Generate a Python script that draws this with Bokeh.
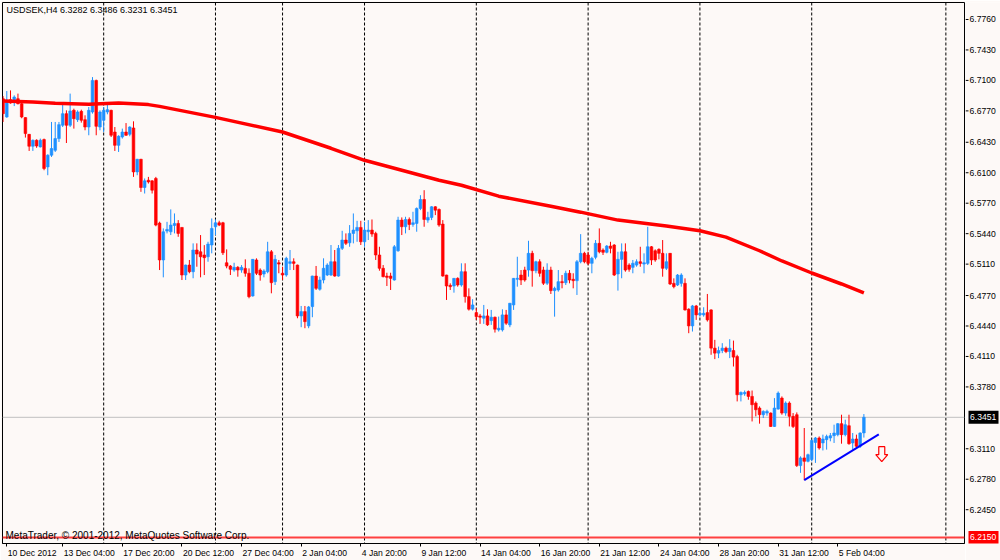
from bokeh.plotting import figure
from bokeh.layouts import row
from bokeh.models import (Range1d, LinearAxis, FixedTicker, Span, Label, ColumnDataSource)
from bokeh.core.properties import value
from bokeh.embed import file_html
from bokeh.resources import INLINE

# ---------------- data ----------------
symbol_title = "USDSEK,H4  6.3282 6.3486 6.3231 6.3451"
copyright_text = "MetaTrader, \u00a9 2001-2012, MetaQuotes Software Corp."

bars = list(range(-1, 231))
opens = [6.6902, 6.6704, 6.6891, 6.6866, 6.6902, 6.6848, 6.6697, 6.6516, 6.6387, 6.6452,
         6.6380, 6.6459, 6.6163, 6.6290, 6.6343, 6.6470, 6.6614, 6.6740, 6.6614, 6.6776,
         6.6675, 6.6765, 6.6675, 6.6595, 6.6758, 6.7100, 6.6595, 6.6668, 6.6758, 6.6776,
         6.6541, 6.6397, 6.6487, 6.6541, 6.6516, 6.6585, 6.6109, 6.6246, 6.5940, 6.6019,
         6.6012, 6.6038, 6.5555, 6.5155, 6.5468, 6.5460, 6.5529, 6.5551, 6.5508, 6.4992,
         6.5100, 6.5028, 6.5263, 6.5244, 6.5209, 6.5190, 6.5317, 6.5514, 6.5558, 6.5558,
         6.5125, 6.5089, 6.5046, 6.5075, 6.5046, 6.5064, 6.5011, 6.4765, 6.5155, 6.5046,
         6.5003, 6.5028, 6.5244, 6.4920, 6.5125, 6.5011, 6.4992, 6.5118, 6.5136, 6.5100,
         6.4549, 6.4596, 6.4441, 6.4650, 6.4981, 6.4838, 6.4938, 6.4992, 6.4992, 6.5136,
         6.4981, 6.5281, 6.5371, 6.5341, 6.5443, 6.5471, 6.5508, 6.5352, 6.5461, 6.5479,
         6.5443, 6.5209, 6.5065, 6.4981, 6.4981, 6.4938, 6.5255, 6.5587, 6.5515, 6.5594,
         6.5540, 6.5551, 6.5713, 6.5810, 6.5587, 6.5616, 6.5731, 6.5702, 6.5544, 6.4992,
         6.4880, 6.4873, 6.4956, 6.4884, 6.5028, 6.4758, 6.4622, 6.4585, 6.4549, 6.4524,
         6.4549, 6.4498, 6.4535, 6.4398, 6.4398, 6.4560, 6.4452, 6.4668, 6.4946, 6.4992,
         6.5046, 6.5046, 6.5227, 6.5039, 6.5136, 6.5046, 6.4903, 6.5046, 6.4823, 6.4830,
         6.4920, 6.4909, 6.5011, 6.4946, 6.4931, 6.5136, 6.5227, 6.5209, 6.5119, 6.5184,
         6.5335, 6.5263, 6.5238, 6.5306, 6.5317, 6.5003, 6.5162, 6.5244, 6.5100, 6.5075,
         6.5100, 6.5136, 6.5111, 6.5118, 6.5298, 6.5255, 6.5270, 6.5227, 6.5065, 6.5227,
         6.4902, 6.4884, 6.4902, 6.4902, 6.4622, 6.4441, 6.4657, 6.4560, 6.4560, 6.4585,
         6.4614, 6.4200, 6.4146, 6.4174, 6.4200, 6.4163, 6.4174, 6.4109, 6.3695, 6.3706,
         6.3731, 6.3677, 6.3605, 6.3551, 6.3479, 6.3497, 6.3497, 6.3352, 6.3540, 6.3659,
         6.3497, 6.3605, 6.3461, 6.3479, 6.2928, 6.3011, 6.2974, 6.2993, 6.3179, 6.3227,
         6.3173, 6.3209, 6.3227, 6.3252, 6.3263, 6.3382, 6.3263, 6.3360, 6.3173, 6.3216,
         6.3137, 6.3282]
highs = [6.6930, 6.6985, 6.6992, 6.6938, 6.6957, 6.6860, 6.6700, 6.6520, 6.6460, 6.6462,
         6.6470, 6.6470, 6.6300, 6.6650, 6.6650, 6.6650, 6.6848, 6.6776, 6.6957, 6.6794,
         6.6776, 6.6783, 6.6722, 6.6812, 6.7136, 6.7108, 6.6776, 6.6812, 6.6838, 6.6783,
         6.6595, 6.6506, 6.6578, 6.6638, 6.6603, 6.6657, 6.6250, 6.6250, 6.6038, 6.6055,
         6.6019, 6.6055, 6.5570, 6.5497, 6.5568, 6.5703, 6.5659, 6.5587, 6.5510, 6.5105,
         6.5155, 6.5335, 6.5335, 6.5425, 6.5316, 6.5352, 6.5605, 6.5594, 6.5580, 6.5568,
         6.5270, 6.5100, 6.5125, 6.5089, 6.5100, 6.5162, 6.5064, 6.5165, 6.5173, 6.5064,
         6.5054, 6.5352, 6.5263, 6.5209, 6.5155, 6.5082, 6.5190, 6.5263, 6.5173, 6.5105,
         6.4657, 6.4657, 6.4657, 6.4985, 6.5090, 6.4974, 6.5173, 6.5119, 6.5317, 6.5263,
         6.5317, 6.5471, 6.5443, 6.5533, 6.5659, 6.5579, 6.5579, 6.5568, 6.5587, 6.5594,
         6.5461, 6.5298, 6.5100, 6.5017, 6.5017, 6.5317, 6.5623, 6.5616, 6.5623, 6.5616,
         6.5677, 6.5724, 6.5857, 6.5911, 6.5677, 6.5738, 6.5738, 6.5713, 6.5587, 6.4995,
         6.4902, 6.4960, 6.4967, 6.5119, 6.5119, 6.4848, 6.4730, 6.4632, 6.4571, 6.4668,
         6.4621, 6.4614, 6.4542, 6.4542, 6.4621, 6.4614, 6.4690, 6.4960, 6.5190, 6.5046,
         6.5082, 6.5363, 6.5255, 6.5147, 6.5162, 6.5082, 6.5119, 6.5082, 6.4866, 6.5046,
         6.4992, 6.5039, 6.5046, 6.5011, 6.5155, 6.5435, 6.5244, 6.5244, 6.5190, 6.5371,
         6.5497, 6.5281, 6.5317, 6.5352, 6.5327, 6.5244, 6.5335, 6.5335, 6.5119, 6.5155,
         6.5162, 6.5298, 6.5227, 6.5514, 6.5306, 6.5270, 6.5281, 6.5371, 6.5227, 6.5230,
         6.4956, 6.5003, 6.5011, 6.4956, 6.4632, 6.4668, 6.4668, 6.4614, 6.4643, 6.4787,
         6.4621, 6.4290, 6.4217, 6.4254, 6.4217, 6.4297, 6.4282, 6.4128, 6.3731, 6.3741,
         6.3741, 6.3741, 6.3623, 6.3569, 6.3526, 6.3533, 6.3504, 6.3659, 6.3731, 6.3677,
         6.3623, 6.3623, 6.3497, 6.3504, 6.3028, 6.3335, 6.3057, 6.3209, 6.3238, 6.3244,
         6.3263, 6.3263, 6.3281, 6.3371, 6.3389, 6.3479, 6.3425, 6.3479, 6.3281, 6.3263,
         6.3288, 6.3486]
lows = [6.6650, 6.6695, 6.6848, 6.6822, 6.6840, 6.6690, 6.6481, 6.6336, 6.6336, 6.6370,
        6.6373, 6.6127, 6.6073, 6.6271, 6.6325, 6.6433, 6.6595, 6.6422, 6.6595, 6.6578,
        6.6650, 6.6643, 6.6560, 6.6506, 6.6740, 6.6506, 6.6560, 6.6541, 6.6733, 6.6487,
        6.6336, 6.6325, 6.6470, 6.6500, 6.6495, 6.6055, 6.6073, 6.5893, 6.5875, 6.5983,
        6.5875, 6.5520, 6.5046, 6.4967, 6.5443, 6.5425, 6.5443, 6.5406, 6.4938, 6.4938,
        6.5011, 6.4957, 6.5082, 6.4967, 6.4992, 6.5136, 6.5227, 6.5425, 6.5522, 6.5209,
        6.5065, 6.4992, 6.5028, 6.4974, 6.5017, 6.4974, 6.4740, 6.4758, 6.4992, 6.4931,
        6.4967, 6.5011, 6.4794, 6.4884, 6.5011, 6.4938, 6.4974, 6.5046, 6.5046, 6.4524,
        6.4427, 6.4416, 6.4416, 6.4535, 6.4830, 6.4823, 6.4902, 6.4981, 6.4981, 6.4974,
        6.4974, 6.5263, 6.5317, 6.5298, 6.5335, 6.5352, 6.5317, 6.5298, 6.5371, 6.5406,
        6.5155, 6.5039, 6.4967, 6.4873, 6.4830, 6.4931, 6.5244, 6.5425, 6.5443, 6.5479,
        6.5515, 6.5461, 6.5695, 6.5515, 6.5558, 6.5587, 6.5641, 6.5515, 6.4974, 6.4722,
        6.4830, 6.4801, 6.4866, 6.4866, 6.4693, 6.4607, 6.4607, 6.4506, 6.4463, 6.4463,
        6.4441, 6.4452, 6.4369, 6.4380, 6.4380, 6.4452, 6.4427, 6.4614, 6.4866, 6.4884,
        6.4920, 6.4974, 6.4866, 6.5011, 6.4974, 6.4884, 6.4884, 6.4787, 6.4541, 6.4812,
        6.4848, 6.4884, 6.4902, 6.4848, 6.4776, 6.5119, 6.5119, 6.5100, 6.5011, 6.5162,
        6.5227, 6.5209, 6.5227, 6.5227, 6.4981, 6.4823, 6.4957, 6.5028, 6.5028, 6.5011,
        6.5082, 6.5082, 6.5011, 6.5100, 6.5100, 6.5136, 6.5162, 6.4974, 6.5046, 6.4884,
        6.4848, 6.4873, 6.4866, 6.4607, 6.4362, 6.4380, 6.4506, 6.4541, 6.4541, 6.4488,
        6.4128, 6.4081, 6.4092, 6.4146, 6.4146, 6.4092, 6.4001, 6.3623, 6.3623, 6.3684,
        6.3641, 6.3406, 6.3461, 6.3382, 6.3443, 6.3468, 6.3346, 6.3346, 6.3533, 6.3479,
        6.3468, 6.3352, 6.3335, 6.2913, 6.2849, 6.2770, 6.2963, 6.2974, 6.2957, 6.3101,
        6.3092, 6.3101, 6.3191, 6.3173, 6.3245, 6.3165, 6.3245, 6.3154, 6.3101, 6.3119,
        6.3119, 6.3231]
closes = [6.6740, 6.6884, 6.6855, 6.6920, 6.6848, 6.6704, 6.6524, 6.6387, 6.6452, 6.6390,
          6.6452, 6.6146, 6.6290, 6.6362, 6.6470, 6.6621, 6.6740, 6.6614, 6.6769, 6.6686,
          6.6758, 6.6668, 6.6595, 6.6776, 6.7100, 6.6603, 6.6758, 6.6776, 6.6783, 6.6506,
          6.6397, 6.6495, 6.6541, 6.6506, 6.6595, 6.6109, 6.6246, 6.5940, 6.6012, 6.6001,
          6.5911, 6.5533, 6.5155, 6.5460, 6.5486, 6.5533, 6.5551, 6.5443, 6.4992, 6.5100,
          6.5028, 6.5263, 6.5219, 6.5190, 6.5180, 6.5327, 6.5497, 6.5558, 6.5533, 6.5233,
          6.5089, 6.5054, 6.5075, 6.5046, 6.5075, 6.5011, 6.4758, 6.5162, 6.5011, 6.4992,
          6.5036, 6.5244, 6.4909, 6.5162, 6.5111, 6.4992, 6.5173, 6.5136, 6.5118, 6.4549,
          6.4596, 6.4487, 6.4646, 6.4981, 6.4848, 6.4938, 6.5065, 6.5100, 6.5136, 6.4981,
          6.5281, 6.5371, 6.5335, 6.5443, 6.5479, 6.5508, 6.5352, 6.5479, 6.5479, 6.5436,
          6.5209, 6.5065, 6.4974, 6.4967, 6.4956, 6.5298, 6.5587, 6.5515, 6.5594, 6.5540,
          6.5558, 6.5713, 6.5810, 6.5594, 6.5616, 6.5731, 6.5695, 6.5533, 6.4981, 6.4873,
          6.4866, 6.4956, 6.4884, 6.5028, 6.4758, 6.4622, 6.4668, 6.4541, 6.4535, 6.4549,
          6.4452, 6.4535, 6.4405, 6.4416, 6.4560, 6.4470, 6.4686, 6.4956, 6.4956, 6.4938,
          6.4938, 6.5227, 6.5039, 6.5136, 6.5011, 6.4903, 6.5046, 6.4823, 6.4848, 6.4920,
          6.4909, 6.5011, 6.4938, 6.4931, 6.5136, 6.5227, 6.5136, 6.5119, 6.5173, 6.5335,
          6.5244, 6.5238, 6.5306, 6.5281, 6.4992, 6.5162, 6.5244, 6.5046, 6.5054, 6.5119,
          6.5136, 6.5118, 6.5125, 6.5298, 6.5155, 6.5155, 6.5227, 6.5065, 6.5136, 6.4895,
          6.4866, 6.4992, 6.4992, 6.4614, 6.4441, 6.4657, 6.4560, 6.4578, 6.4578, 6.4506,
          6.4200, 6.4146, 6.4174, 6.4200, 6.4163, 6.4200, 6.4103, 6.3695, 6.3720, 6.3720,
          6.3677, 6.3587, 6.3533, 6.3479, 6.3515, 6.3515, 6.3352, 6.3551, 6.3713, 6.3497,
          6.3605, 6.3461, 6.3352, 6.2928, 6.3011, 6.2974, 6.3046, 6.3201, 6.3227, 6.3119,
          6.3216, 6.3244, 6.3252, 6.3281, 6.3382, 6.3263, 6.3371, 6.3165, 6.3216, 6.3137,
          6.3281, 6.3451]

ma_bar = [-1, 7, 13, 22, 30, 38, 41, 56, 74, 87, 96, 106, 116, 122, 132, 146, 154,
          164, 177, 186, 193, 202, 208, 216, 224, 230]
ma_price = [6.6876, 6.6866, 6.6852, 6.6841, 6.6855, 6.6838, 6.6819, 6.6700, 6.6541,
            6.6365, 6.6235, 6.6127, 6.6019, 6.5965, 6.5846, 6.5738, 6.5673, 6.5587,
            6.5522, 6.5471, 6.5403, 6.5255, 6.5144, 6.5014, 6.4895, 6.4798]

trend_bar = [214, 234]
trend_price = [6.2770, 6.3265]

separator_bars = [26, 56, 74, 96, 126, 156, 186, 216, 252]
xtick_bars = [0, 15, 31, 47, 63, 79, 95, 111, 127, 143, 159, 175, 191, 207, 223]
xtick_labels = ["10 Dec 2012", "13 Dec 04:00", "17 Dec 20:00", "20 Dec 12:00",
                "27 Dec 04:00", "2 Jan 04:00", "4 Jan 20:00", "9 Jan 12:00",
                "14 Jan 04:00", "16 Jan 20:00", "21 Jan 12:00", "24 Jan 04:00",
                "28 Jan 20:00", "31 Jan 12:00", "5 Feb 04:00"]
ytick_prices = [6.7760, 6.7430, 6.7100, 6.6770, 6.6430, 6.6100, 6.5770, 6.5440,
                6.5110, 6.4770, 6.4440, 6.4110, 6.3780, 6.3110, 6.2780, 6.2450]
bid_price = 6.3451
hline_price = 6.2150
arrow_bar = 234.8
arrow_price = 6.3133

# ---------------- styling / layout ----------------
BG = "#FDF9F7"
BULL = "#1E90FF"
BEAR = "#FF0000"
FONT = "Liberation Sans"
FS_AX = 8.6        # px, tick labels
W1, W2, H = 965, 35, 560
BL, BT, BR, BB = 2, 2, 1, 16
FW, FH = W1 - BL - BR, H - BT - BB
X0, X1 = -1.15, 257.0
Y0, Y1 = 6.2084, 6.7944
PX_X = (X1 - X0) / FW     # data units per pixel (x)
PX_Y = (Y1 - Y0) / FH     # data units per pixel (y)

# Arial/Liberation Sans advance widths (em) for label centring
CW = {" ": 0.278, ":": 0.278, "D": 0.722, "J": 0.5, "F": 0.611, "c": 0.5}


def text_width(s, size):
    return sum(CW.get(ch, 0.556) for ch in s) * size


colors = [BULL if c >= o else BEAR for o, c in zip(opens, closes)]
tops = [max(o, c) for o, c in zip(opens, closes)]
bottoms = [min(o, c) for o, c in zip(opens, closes)]
tops = [t if t - b >= PX_Y else b + PX_Y for t, b in zip(tops, bottoms)]

src = ColumnDataSource(dict(bar=bars, high=highs, low=lows, top=tops,
                            bottom=bottoms, color=colors))

yr = Range1d(Y0, Y1)
p = figure(width=W1, height=H, x_range=Range1d(X0, X1), y_range=yr,
           output_backend="svg", toolbar_location=None,
           x_axis_location=None, y_axis_location=None,
           min_border_left=BL, min_border_top=BT, min_border_right=BR, min_border_bottom=BB)
p.background_fill_color = BG
p.border_fill_color = BG
p.outline_line_color = "black"
p.outline_line_width = 1
p.grid.visible = False

# time scale: tick marks at the bars, labels starting right of each tick
tick_axis = LinearAxis(ticker=FixedTicker(ticks=xtick_bars), major_tick_out=3, major_tick_in=0,
                       minor_tick_out=0, minor_tick_in=0, major_label_standoff=0,
                       major_label_text_font_size="0px", major_label_text_color=None,
                       axis_line_color="black", major_tick_line_color="black")
p.add_layout(tick_axis, "below")
label_pos = [b + (text_width(t, FS_AX) / 2 + 1) * PX_X for b, t in zip(xtick_bars, xtick_labels)]
label_axis = LinearAxis(ticker=FixedTicker(ticks=label_pos),
                        major_label_overrides={x: t for x, t in zip(label_pos, xtick_labels)},
                        major_tick_out=0, major_tick_in=0, minor_tick_out=0, minor_tick_in=0,
                        major_label_standoff=1, major_label_text_font=FONT,
                        major_label_text_font_size="%.1fpx" % FS_AX,
                        major_label_text_color="black",
                        axis_line_color=None, major_tick_line_color=None)
p.add_layout(label_axis, "below")

for b in separator_bars:
    p.add_layout(Span(location=b, dimension="height", line_color="black",
                      line_dash="3 2", line_width=1, level="underlay"))
p.add_layout(Span(location=bid_price, dimension="width", line_color="#C0C0C0",
                  line_width=1, level="underlay"))
p.add_layout(Span(location=hline_price, dimension="width", line_color="#FF4040",
                  line_width=2))

p.segment(x0="bar", y0="high", x1="bar", y1="low", line_color="color", line_width=1, source=src)
p.vbar(x="bar", width=0.72, top="top", bottom="bottom", fill_color="color",
       line_color="color", line_width=0.6, source=src)

p.line(ma_bar, ma_price, line_color="#FF0000", line_width=3.5)
p.line(trend_bar, trend_price, line_color="#0000FF", line_width=2)

# hollow sell arrow
sw, hw, sl, hl = 3 * PX_X, 6 * PX_X, 8 * PX_Y, 7 * PX_Y
ax = [arrow_bar - sw, arrow_bar + sw, arrow_bar + sw, arrow_bar + hw, arrow_bar,
      arrow_bar - hw, arrow_bar - sw]
ay = [arrow_price, arrow_price, arrow_price - sl, arrow_price - sl, arrow_price - sl - hl,
      arrow_price - sl, arrow_price - sl]
p.patch(ax, ay, fill_color=BG, line_color="#FF0000", line_width=1.2)

p.add_layout(Label(x=X0 + 4 * PX_X, y=Y1 - 3 * PX_Y, text=symbol_title, text_font=FONT,
                   text_font_size="9px", text_color="black", text_baseline="top",
                   text_align="left"))
p.add_layout(Label(x=X0 + 3 * PX_X, y=hline_price + 2 * PX_Y, text=copyright_text,
                   text_font=FONT, text_font_size="10px", text_color="black",
                   text_baseline="middle", text_align="left"))

# price scale panel, sharing the price range
q = figure(width=W2, height=H, x_range=Range1d(0, W2), y_range=yr,
           output_backend="svg", toolbar_location=None,
           x_axis_location=None, y_axis_location=None,
           min_border_left=0, min_border_top=BT, min_border_right=0, min_border_bottom=BB)
q.background_fill_color = BG
q.border_fill_color = BG
q.outline_line_color = None
q.grid.visible = False

ylab = ["%.4f" % v for v in ytick_prices]
q.segment(x0=0, y0=ytick_prices, x1=3, y1=ytick_prices, line_color="black", line_width=1)
q.text(x=4, y=ytick_prices, text=ylab, text_font=value(FONT),
       text_font_size=value("%.1fpx" % FS_AX), text_color="black",
       text_baseline="middle", text_align="left")

box_prices = [bid_price, hline_price]
q.rect(x=18, y=box_prices, width=30, height=13, height_units="screen",
       fill_color=["black", "#FF0000"], line_color=None)
q.text(x=4.5, y=box_prices, text=["%.4f" % v for v in box_prices], text_font=value(FONT),
       text_font_size=value("%.1fpx" % FS_AX), text_color="white",
       text_baseline="middle", text_align="left")

layout = row(p, q)
open("out.html", "w").write(file_html(layout, INLINE))
